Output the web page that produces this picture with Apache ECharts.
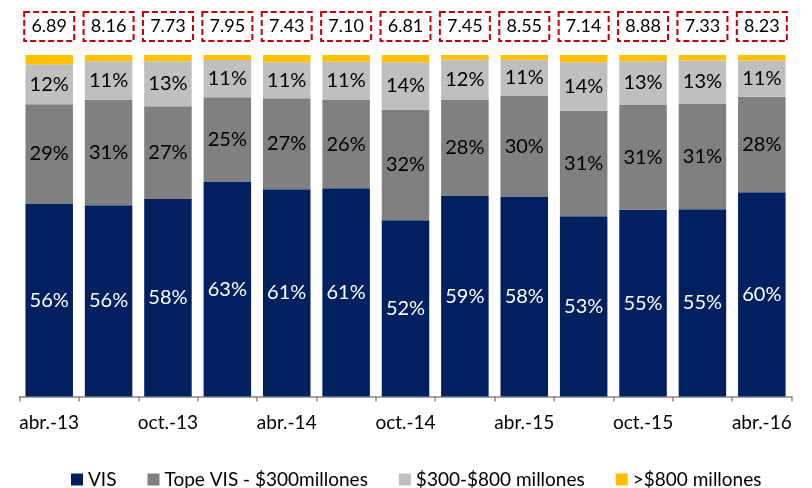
<!DOCTYPE html>
<html>
<head>
<meta charset="utf-8">
<script src="https://cdn.jsdelivr.net/npm/echarts@6/dist/echarts.min.js"></script>
<style>
  html, body { margin: 0; padding: 0; background: #fff; }
  #chart { width: 812px; height: 488px; }
</style>
</head>
<body>
<div id="chart"></div>
<script>
const categories = ['abr.-13', 'jul.-13', 'oct.-13', 'ene.-14', 'abr.-14', 'jul.-14', 'oct.-14',
  'ene.-15', 'abr.-15', 'jul.-15', 'oct.-15', 'ene.-16', 'abr.-16']

// participación (%) por rango de precio
const vis = [56.4, 56.0, 57.8, 62.8, 60.7, 61.0, 51.6, 58.7, 58.4, 52.8, 54.7, 54.8, 59.8]
const topeVis = [29.2, 30.9, 27.2, 24.8, 26.6, 25.8, 32.4, 28.3, 29.6, 30.9, 30.8, 31.0, 28.0]
const rango300800 = [11.7, 11.3, 13.2, 10.9, 10.6, 11.2, 13.9, 11.6, 10.6, 14.2, 12.7, 12.6, 10.6]
const mayor800 = [2.7, 1.8, 1.8, 1.5, 2.1, 2.0, 2.1, 1.4, 1.4, 2.1, 1.8, 1.6, 1.6]

// valores en los recuadros rojos
const totals = ['6.89', '8.16', '7.73', '7.95', '7.43', '7.10', '6.81', '7.45', '8.55', '7.14', '8.88', '7.33', '8.23']

const FONT = 'Lato'

const chart = echarts.init(document.getElementById('chart'))

const pctLabel = (color) => ({
  show: true,
  position: 'inside',
  color: color,
  fontFamily: FONT,
  fontSize: 20,
  formatter: (p) => Math.round(p.value) + '%'
})

const option = {
  backgroundColor: '#fff',
  animation: false,
  grid: {
    left: 19.5,
    right: 20.5,
    top: 55,
    bottom: 91.5,
    outerBoundsMode: 'none'
  },
  legend: {
    left: 66,
    top: 465,
    icon: 'rect',
    itemWidth: 12,
    itemHeight: 12,
    itemGap: 31,
    textStyle: { fontFamily: FONT, fontSize: 19, color: '#000' }
  },
  xAxis: {
    type: 'category',
    data: categories,
    axisLine: { lineStyle: { color: '#868686', width: 1.5 } },
    axisTick: { show: true, interval: 0, length: 5, lineStyle: { color: '#868686', width: 1.5 } },
    axisLabel: { interval: 1, margin: 17, color: '#000', fontFamily: FONT, fontSize: 19 }
  },
  yAxis: {
    type: 'value',
    min: 0,
    max: 100,
    show: false,
    splitLine: { show: false }
  },
  series: [
    {
      name: 'VIS',
      type: 'bar',
      stack: 'total',
      barCategoryGap: '20%',
      data: vis,
      itemStyle: { color: '#002060' },
      label: pctLabel('#fff')
    },
    {
      name: 'Tope VIS - $300millones',
      type: 'bar',
      stack: 'total',
      data: topeVis,
      itemStyle: { color: '#808080' },
      label: pctLabel('#000')
    },
    {
      name: '$300-$800 millones',
      type: 'bar',
      stack: 'total',
      data: rango300800,
      itemStyle: { color: '#BFBFBF' },
      label: pctLabel('#000')
    },
    {
      name: '>$800 millones',
      type: 'bar',
      stack: 'total',
      data: mayor800,
      itemStyle: { color: '#FFC000' },
      label: {
        show: true,
        position: 'top',
        distance: 14,
        formatter: (p) => totals[p.dataIndex],
        color: '#000',
        fontFamily: FONT,
        fontSize: 18,
        width: 50,
        height: 29,
        lineHeight: 29,
        align: 'center',
        borderColor: '#C00000',
        borderWidth: 2,
        borderType: [6, 3],
        padding: [0, 0, 0, 0]
      }
    }
  ]
}

chart.setOption(option)
</script>
</body>
</html>
